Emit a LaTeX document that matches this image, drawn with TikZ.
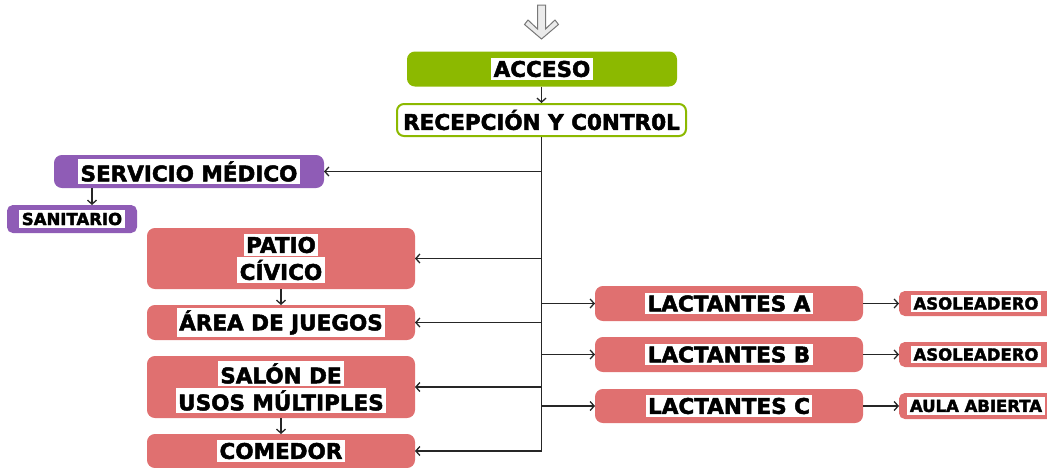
\documentclass[tikz,border=0pt]{standalone}
\usepackage{fontspec}
\newfontfamily\boxfont{DejaVu Sans}[BoldFont={DejaVu Sans Bold}, BoldFeatures={FakeBold=2.2}]
\usetikzlibrary{arrows.meta,positioning}
\definecolor{verde}{RGB}{140,185,0}
\definecolor{morado}{RGB}{143,92,182}
\definecolor{rojo}{RGB}{224,112,112}
\definecolor{gris}{RGB}{120,120,120}
\setlength{\fboxsep}{2.5pt}
\newcommand{\tlbl}[1]{\colorbox{white}{#1}}
\begin{document}
\begin{tikzpicture}[x=1pt, y=-1pt,
    caja/.style={rounded corners=7pt, line width=2pt, inner sep=0pt,
        font=\boxfont\bfseries\fontsize{21.5}{27}\selectfont, align=center},
    cajita/.style={caja, rounded corners=5pt,
        font=\boxfont\bfseries\fontsize{16.5}{20}\selectfont},
    acceso/.style={caja, fill=verde, draw=verde},
    medico/.style={fill=morado, draw=morado},
    aula/.style={fill=rojo, draw=rojo},
    flecha/.style={draw=black!85, line width=1.3pt, -{Straight Barb[length=4pt,width=9pt]}}]
    \useasboundingbox (0,0) rectangle (1047,467);

    % entrada
    \draw[gris, line width=1pt, fill=gris!15]
        (537.5,5) -- (545.5,5) -- (545.5,29) -- (555,20) -- (558.5,24.5)
        -- (541.5,39) -- (524.5,24.5) -- (528,20) -- (537.5,29) -- cycle;

    % accesos
    \node[acceso, minimum width=268pt, minimum height=33pt] (acc) at (542,69) {\tlbl{ACCESO}};
    \node[caja, fill=white, draw=verde, minimum width=289pt, minimum height=32pt] (rec) at (541.5,120) {\tlbl{RECEPCIÓN Y C0NTR0L}};

    % servicio medico
    \node[caja, medico, minimum width=268pt, minimum height=31pt] (med) at (189,171.5) {\tlbl{SERVICIO MÉDICO}};
    \node[cajita, medico, minimum width=128pt, minimum height=26pt] (san) at (72,219) {\tlbl{SANITARIO}};

    % areas comunes
    \node[caja, aula, minimum width=266pt, minimum height=59pt] (pat) at (281,258.5) {\tlbl{PATIO}\\\tlbl{CÍVICO}};
    \node[caja, aula, minimum width=266pt, minimum height=33pt] (are) at (281,322.5) {\tlbl{ÁREA DE JUEGOS}};
    \node[caja, aula, minimum width=266pt, minimum height=60pt] (sal) at (281,387) {\tlbl{SALÓN DE}\\\tlbl{USOS MÚLTIPLES}};
    \node[caja, aula, minimum width=266pt, minimum height=32pt] (com) at (281,451) {\tlbl{COMEDOR}};

    % lactantes
    \node[caja, aula, minimum width=266pt, minimum height=33pt] (lacA) at (729,303.5) {\tlbl{LACTANTES A}};
    \node[caja, aula, minimum width=266pt, minimum height=33pt] (lacB) at (729,354.5) {\tlbl{LACTANTES B}};
    \node[caja, aula, minimum width=266pt, minimum height=32pt] (lacC) at (729,406) {\tlbl{LACTANTES C}};
    \node[cajita, aula, minimum width=152pt, minimum height=23pt] (asoA) at (976,303.5) {\tlbl{ASOLEADERO}};
    \node[cajita, aula, minimum width=152pt, minimum height=23pt] (asoB) at (976,354.5) {\tlbl{ASOLEADERO}};
    \node[cajita, aula, minimum width=152pt, minimum height=24pt] (aul) at (976,406) {\tlbl{AULA ABIERTA}};

    % conexiones
    \draw[flecha] (acc.south -| rec) -- (rec.north);
    \draw[flecha] (rec.south) |- (com.east);
    \draw[flecha] (rec.south |- med.east) -- (med.east);
    \draw[flecha] ([xshift=-97pt]med.south) -- ([xshift=-97pt]med.south |- san.north);
    \draw[flecha] (rec.south |- pat.east) -- (pat.east);
    \draw[flecha] (rec.south |- are.east) -- (are.east);
    \draw[flecha] (rec.south |- sal.east) -- (sal.east);
    \draw[flecha] (pat.south) -- (are.north);
    \draw[flecha] (sal.south) -- (com.north);
    \draw[flecha] (rec.south |- lacA.west) -- (lacA.west);
    \draw[flecha] (rec.south |- lacB.west) -- (lacB.west);
    \draw[flecha] (rec.south |- lacC.west) -- (lacC.west);
    \draw[flecha] (lacA.east) -- (asoA.west);
    \draw[flecha] (lacB.east) -- (asoB.west);
    \draw[flecha] (lacC.east) -- (aul.west);
\end{tikzpicture}
\end{document}
